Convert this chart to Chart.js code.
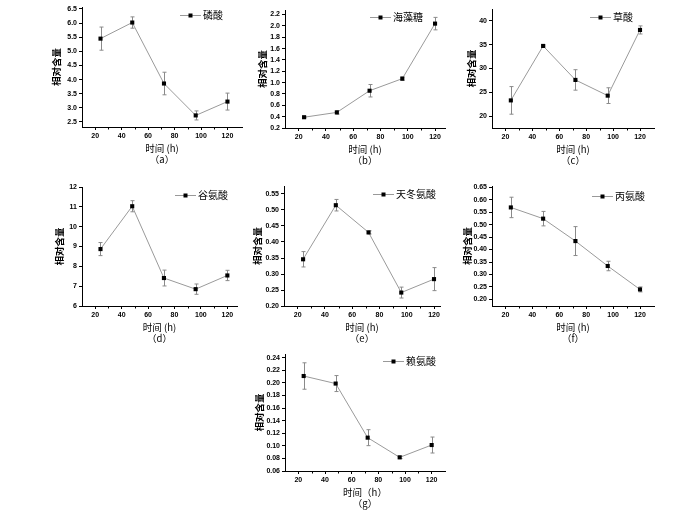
<!DOCTYPE html>
<html><head><meta charset="utf-8">
<script src="https://cdn.jsdelivr.net/npm/chart.js@4/dist/chart.umd.min.js"></script>
<style>
html,body{margin:0;padding:0;background:#fff;}
body{width:700px;height:511px;position:relative;overflow:hidden;}
.pane{position:absolute;}
</style></head><body>
<script>
// ---- data ----
const times = [24, 48, 72, 96, 120];
const xTickValues = [20, 40, 60, 80, 100, 120];
const xMinorValues = [30, 50, 70, 90, 110];

const phosphate = [5.45, 6.02, 3.86, 2.73, 3.22];
const phosphateErr = [0.41, 0.20, 0.40, 0.16, 0.30];
const trehalose = [0.39, 0.475, 0.857, 1.07, 2.04];
const trehaloseErr = [0.01, 0.03, 0.11, 0.03, 0.11];
const oxalic = [23.3, 34.74, 27.6, 24.3, 38.1];
const oxalicErr = [2.9, 0.2, 2.15, 1.65, 0.85];
const glutamic = [8.87, 11.03, 7.41, 6.85, 7.54];
const glutamicErr = [0.33, 0.28, 0.40, 0.26, 0.26];
const aspartic = [0.346, 0.515, 0.430, 0.242, 0.284];
const asparticErr = [0.024, 0.018, 0.005, 0.017, 0.036];
const alanine = [0.569, 0.524, 0.434, 0.334, 0.240];
const alanineErr = [0.041, 0.029, 0.058, 0.019, 0.010];
const lysine = [0.211, 0.199, 0.113, 0.0817, 0.1013];
const lysineErr = [0.021, 0.0127, 0.0127, 0.002, 0.0127];

const yTicksA = ['2.5','3.0','3.5','4.0','4.5','5.0','5.5','6.0','6.5'];
const yTicksB = ['0.2','0.4','0.6','0.8','1.0','1.2','1.4','1.6','1.8','2.0','2.2'];
const yTicksC = ['20','25','30','35','40'];
const yTicksD = ['6','7','8','9','10','11','12'];
const yTicksE = ['0.20','0.25','0.30','0.35','0.40','0.45','0.50','0.55'];
const yTicksF = ['0.20','0.25','0.30','0.35','0.40','0.45','0.50','0.55','0.60','0.65'];
const yTicksG = ['0.06','0.08','0.10','0.12','0.14','0.16','0.18','0.20','0.22','0.24'];

const names = ['磷酸','海藻糖','草酸','谷氨酸','天冬氨酸','丙氨酸','赖氨酸'];
const yTitle = '相对含量';
const xTitles = ['时间 (h)','时间 (h)','时间 (h)','时间 (h)','时间 (h)','时间 (h)','时间（h）'];
const panelLabels = ['（a）','（b）','（c）','（d）','（e）','（f）','（g）'];

// ---- layout (page pixel boxes of each plot area) ----
const YW = 60, XH = 46, PT = 8, PR = 8;
const panels = [
  {v: phosphate, e: phosphateErr, t: yTicksA, yMin: 2.32, yMax: 6.57, xMax: 131, box:[82,7,242,127], leg:[180,15], yOff:25},
  {v: trehalose, e: trehaloseErr, t: yTicksB, yMin: 0.2, yMax: 2.28, xMax: 127.3, box:[285,10,445,128], leg:[370,17], yOff:22},
  {v: oxalic, e: oxalicErr, t: yTicksC, yMin: 17.5, yMax: 42.5, xMax: 130.4, box:[492,9,654,128], leg:[590,17], yOff:20},
  {v: glutamic, e: glutamicErr, t: yTicksD, yMin: 6, yMax: 12, xMax: 127.3, box:[82,187,237,306], leg:[175,195], yOff:22},
  {v: aspartic, e: asparticErr, t: yTicksE, yMin: 0.2, yMax: 0.575, xMax: 124.4, box:[284,186,440,306], leg:[373,194], yOff:26},
  {v: alanine, e: alanineErr, t: yTicksF, yMin: 0.1735, yMax: 0.655, xMax: 130.4, box:[492,186,654,306], leg:[592,196], yOff:24},
  {v: lysine, e: lysineErr, t: yTicksG, yMin: 0.06, yMax: 0.246, xMax: 130, box:[285,354,445,471], leg:[383,361], yOff:25}
];

const errorBars = {
  id: 'errorBars',
  beforeDatasetsDraw(chart, args, opts) {
    const {ctx, scales: {x, y}} = chart;
    const ds = chart.data.datasets[0];
    const errs = opts.errors || [];
    ctx.save();
    ctx.strokeStyle = '#8a8a8a';
    ctx.lineWidth = 1;
    ds.data.forEach((p, i) => {
      const e = errs[i] || 0;
      const px = Math.round(x.getPixelForValue(p.x)) + 0.5;
      const y1 = y.getPixelForValue(p.y + e);
      const y2 = y.getPixelForValue(p.y - e);
      ctx.beginPath();
      ctx.moveTo(px, y1); ctx.lineTo(px, y2);
      ctx.moveTo(px - 2, y1); ctx.lineTo(px + 2, y1);
      ctx.moveTo(px - 2, y2); ctx.lineTo(px + 2, y2);
      ctx.stroke();
    });
    ctx.restore();
  }
};

const extras = {
  id: 'extras',
  afterDraw(chart, args, opts) {
    const {ctx, scales: {x}} = chart;
    ctx.save();
    // minor ticks on x axis
    ctx.strokeStyle = '#000';
    ctx.lineWidth = 1;
    const yb = Math.round(x.top) + 0.5;
    xMinorValues.forEach(v => {
      const px = Math.round(x.getPixelForValue(v)) + 0.5;
      ctx.beginPath(); ctx.moveTo(px, yb); ctx.lineTo(px, yb + 2); ctx.stroke();
    });
    // legend
    const [lx, ly] = opts.pos;
    ctx.strokeStyle = '#999';
    ctx.beginPath(); ctx.moveTo(lx, ly + 0.5); ctx.lineTo(lx + 21, ly + 0.5); ctx.stroke();
    ctx.fillStyle = '#000';
    ctx.fillRect(lx + 8.5, ly - 1.5, 4, 4);
    ctx.font = '10px "Noto Sans CJK SC"';
    ctx.textBaseline = 'middle';
    ctx.textAlign = 'left';
    ctx.fillText(opts.text, lx + 23, ly);
    ctx.restore();
  }
};

panels.forEach((p, k) => {
  const [l, t, r, b] = p.box;
  const cl = l - YW, ct = t - PT;
  const w = (r - l) + YW + PR, h = (b - t) + PT + XH;
  const div = document.createElement('div');
  div.className = 'pane';
  div.style.left = cl + 'px'; div.style.top = ct + 'px';
  div.style.width = w + 'px'; div.style.height = h + 'px';
  const cv = document.createElement('canvas');
  div.appendChild(cv);
  document.body.appendChild(div);
  const yVals = p.t.map(Number);
  const labelOf = {};
  p.t.forEach(s => { labelOf[Number(s)] = s; });
  new Chart(cv, {
    type: 'line',
    data: {
      datasets: [{
        label: names[k],
        data: times.map((tt, i) => ({x: tt, y: p.v[i]})),
        borderColor: '#9a9a9a',
        borderWidth: 1,
        pointStyle: 'rect',
        pointRadius: 2.9,
        pointBackgroundColor: '#000',
        pointBorderColor: '#000',
        pointBorderWidth: 0,
        tension: 0
      }]
    },
    options: {
      responsive: true,
      maintainAspectRatio: false,
      animation: false,
      devicePixelRatio: 1,
      layout: {padding: {left: 0, top: PT, right: PR, bottom: 0}},
      plugins: {
        legend: {display: false},
        tooltip: {enabled: false},
        errorBars: {errors: p.e},
        extras: {pos: [p.leg[0] - cl, p.leg[1] - ct], text: names[k]}
      },
      scales: {
        x: {
          type: 'linear',
          min: 10, max: p.xMax,
          afterBuildTicks: s => { s.ticks = xTickValues.map(v => ({value: v})); },
          afterFit: s => { s.height = XH; },
          grid: {display: true, drawOnChartArea: false, drawTicks: true, tickLength: 3, color: '#000', lineWidth: 1},
          border: {display: true, color: '#000', width: 1},
          ticks: {font: {family: 'Liberation Sans', size: 7, weight: 'bold'}, color: '#000', padding: 2, maxRotation: 0, autoSkip: false},
          title: {
            display: true,
            text: [xTitles[k], panelLabels[k]],
            color: '#000',
            font: {family: '"Noto Sans CJK SC"', size: 9.5, lineHeight: 1.2},
            padding: {top: 0, bottom: 8}
          }
        },
        y: {
          type: 'linear',
          min: p.yMin, max: p.yMax,
          afterBuildTicks: s => { s.ticks = yVals.map(v => ({value: v})); },
          afterFit: s => { s.width = YW; },
          grid: {display: true, drawOnChartArea: false, drawTicks: true, tickLength: 3, color: '#000', lineWidth: 1},
          border: {display: true, color: '#000', width: 1},
          ticks: {
            font: {family: 'Liberation Sans', size: 7, weight: 'bold'}, color: '#000', padding: 2, autoSkip: false,
            callback: v => labelOf[v] !== undefined ? labelOf[v] : ''
          },
          title: {
            display: true,
            text: yTitle,
            color: '#000',
            font: {family: '"Noto Sans CJK SC"', size: 9.5, weight: 'bold', lineHeight: 1.2},
            padding: {top: YW - p.yOff - 6, bottom: 0}
          }
        }
      }
    },
    plugins: [errorBars, extras]
  });
});
</script>
</body></html>
